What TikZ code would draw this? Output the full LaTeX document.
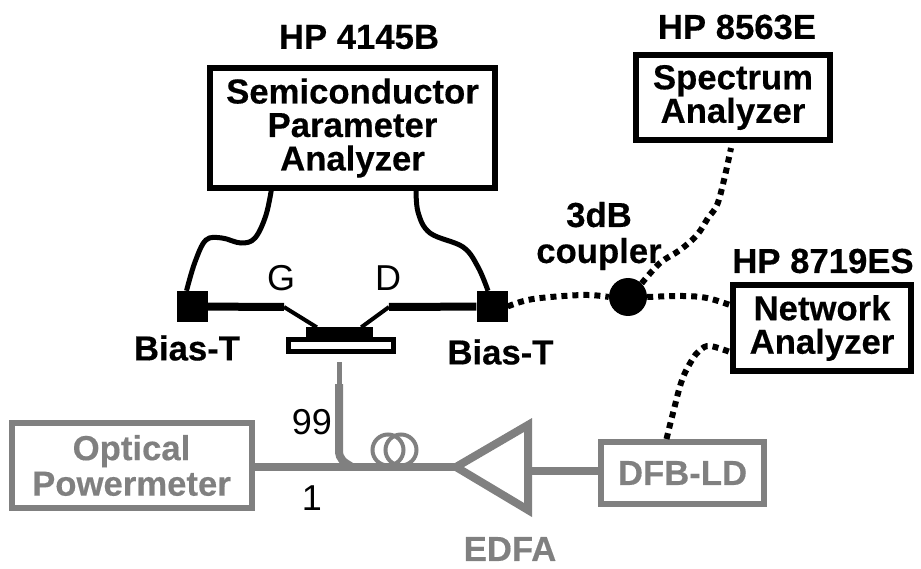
\documentclass[tikz,border=0pt]{standalone}
\usepackage{fontspec}
\setmainfont[BoldFeatures={FakeBold=0.4}]{Liberation Sans}
\definecolor{fibergray}{gray}{0.5}
\newcommand{\bigfont}{\fontsize{34.7}{33.5}\selectfont}
\newcommand{\portfont}{\fontsize{36}{36}\selectfont}
\begin{document}
\begin{tikzpicture}[x=1pt,y=-1pt,
    instr/.style={draw,line width=6pt,inner sep=0pt,align=center,font=\bigfont\bfseries},
    optic/.style={instr,draw=fibergray,text=fibergray},
    tag/.style={font=\bigfont\bfseries,inner sep=0pt,align=center},
    thin tag/.style={font=\portfont,inner sep=0pt},
    biast/.style={fill=black,minimum size=31pt,inner sep=0pt},
    wire/.style={line width=5pt},
    rfline/.style={line width=6pt,dash pattern=on 6pt off 5pt},
    fiber/.style={draw=fibergray,line width=8pt}]
\useasboundingbox (0,0) rectangle (921,569);

% Instruments
\node[instr,minimum width=285pt,minimum height=120pt] (spa) at (352.5,128) {Semiconductor\\Parameter\\Analyzer};
\node[instr,minimum width=194pt,minimum height=85pt] (sa) at (733,97.5) {Spectrum\\Analyzer};
\node[instr,minimum width=178pt,minimum height=86pt] (na) at (822,328) {Network\\Analyzer};
\node[optic,minimum width=240pt,minimum height=85pt] (opm) at (131.5,465.5) {Optical\\[2pt]Powermeter};
\node[optic,minimum width=163pt,minimum height=62pt] (dfb) at (682.5,473) {DFB-LD};

% Instrument labels
\node[tag] (spatag) at (359,37) {HP 4145B};
\node[tag] (satag) at (737,27) {HP 8563E};
\node[tag] (natag) at (823,261) {HP 8719ES};
\node[tag,text=fibergray] (edfatag) at (510,549) {EDFA};
\node[tag,font=\fontsize{34.7}{36}\selectfont\bfseries] (cptag) at (599,236) {3dB\\coupler};

% Bias tees and device
\node[biast] (biasl) at (192.5,306.5) {};
\node[biast] (biasr) at (492,306.5) {};
\node[tag] (biasltag) at (187,348) {Bias-T};
\node[tag] (biasrtag) at (500.5,352) {Bias-T};
\node[thin tag] (gate) at (281,278) {G};
\node[thin tag] (drain) at (388,278) {D};
\node[fill=black,minimum width=67pt,minimum height=10pt,inner sep=0pt] (chip) at (339.5,332.5) {};
\node[draw,line width=5pt,minimum width=105pt,minimum height=12pt,inner sep=0pt] (sub) at (341,345.5) {};
\coordinate (gpad) at (284,307);
\coordinate (dpad) at (389,307);
\draw[line width=8pt] (biasl) -- (gpad);
\draw[line width=8pt] (biasr) -- (dpad);
\draw[line width=4pt] (gpad) -- ([xshift=11pt]chip.north west);
\draw[line width=4pt] (dpad) -- ([xshift=-12pt]chip.north east);

% Bias cables
\coordinate (spal) at (272,186);
\coordinate (spar) at (416,186);
\draw[wire] plot[smooth,tension=0.6] coordinates {(spal) (266,215) (255,238) (241,243) (222,238) (206,240) (195,262) ([xshift=-6pt]biasl.north)};
\draw[wire] plot[smooth,tension=0.6] coordinates {(spar) (418,212) (430,233) (463,247) (478,267) ([xshift=-4pt]biasr.north)};

% RF paths
\node[circle,fill=black,minimum size=38pt,inner sep=0pt] (cp) at (628,297) {};
\coordinate (sain) at (731,148);
\coordinate (nain) at (730,305);
\coordinate (naout) at (730,352);
\draw[rfline] plot[smooth,tension=0.6] coordinates {(biasr.east) (533,299) (583,295) (cp.west)};
\draw[rfline] plot[smooth,tension=0.6] coordinates {(cp.north east) (660,263) (680,250) (697,235) (708,218) (717,205) (724,180) (sain)};
\draw[rfline] plot[smooth,tension=0.6] coordinates {(cp.east) (683,296) (707,298) (nain)};
\draw[rfline] plot[smooth,tension=0.6] coordinates {([xshift=-16pt]dfb.north) (673,413) (682,380) (692,360) (700,350) (710,346) (naout)};

% Optical path
\coordinate (tip) at (339,362);
\coordinate (fibtop) at (339,384);
\coordinate (fibtee) at (352,467);
\coordinate (edfain) at (456,467);
\coordinate (edfaup) at (528,425);
\coordinate (edfadn) at (528,510);
\coordinate (edfaout) at (528,471);
\draw[fiber,line width=5pt] (tip) -- (fibtop);
\draw[fiber] (fibtop) -- (339,450) .. controls (339,460) and (344,462) .. (fibtee);
\draw[fiber] (opm.east |- fibtee) -- (edfain);
\draw[fiber] (dfb.west |- edfaout) -- (edfaout);
\foreach \cx in {388,401}
    \draw[fibergray,line width=4pt] (\cx,450) circle (15.5pt);
\draw[draw=fibergray,fill=white,line width=8pt] (edfain) -- (edfaup) -- (edfadn) -- cycle;

% Port labels
\node[thin tag] (port99) at (312,422) {99};
\node[thin tag] (port1) at (312,498) {1};
\end{tikzpicture}
\end{document}
